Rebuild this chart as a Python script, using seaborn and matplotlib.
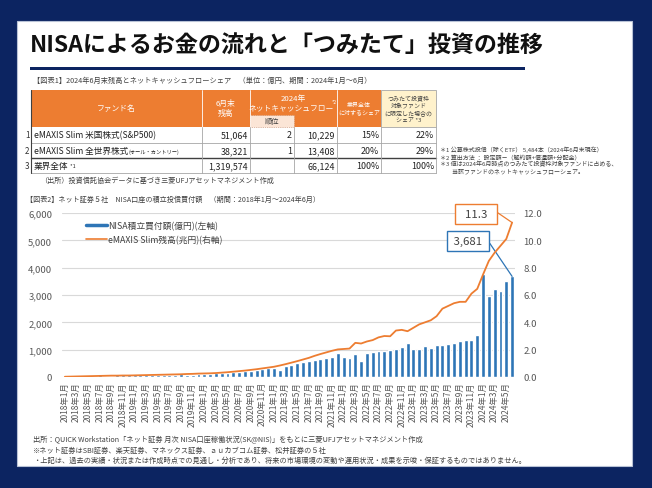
import numpy as np
import pandas as pd
import matplotlib
matplotlib.use("Agg")
import matplotlib.pyplot as plt
import seaborn as sns
from matplotlib.patches import Rectangle
from matplotlib.lines import Line2D

sns.set_theme(style="white")
plt.rcParams['font.family'] = ['Noto Sans CJK JP', 'DejaVu Sans']

# ---------------- data ----------------
months = [f"{y}年{m}月" for y in range(2018, 2025) for m in range(1, 13)][:78]

nisa_buy = [  # 億円 (left axis)
    5, 10, 40, 45, 45, 50, 55, 50, 30, 55, 60, 60,
    55, 60, 55, 60, 70, 75, 70, 80, 95, 85, 90, 95,
    110, 115, 140, 135, 150, 170, 200, 210, 225, 240, 280, 330,
    320, 270, 415, 450, 500, 540, 575, 620, 660, 705, 745, 880,
    720, 700, 850, 600, 880, 915, 940, 960, 990, 1040, 1085, 1230,
    1025, 1010, 1130, 1060, 1160, 1180, 1195, 1245, 1300, 1355, 1355, 1535,
    3780, 2975, 3220, 3160, 3525, 3681,
]
emaxis_aum = [  # 兆円 (right axis)
    0.02, 0.03, 0.04, 0.05, 0.06, 0.07, 0.08, 0.09, 0.10, 0.10, 0.11, 0.11,
    0.12, 0.13, 0.14, 0.15, 0.16, 0.17, 0.18, 0.19, 0.20, 0.22, 0.23, 0.25,
    0.26, 0.27, 0.29, 0.32, 0.35, 0.39, 0.43, 0.47, 0.52, 0.57, 0.63, 0.69,
    0.75, 0.84, 0.94, 1.05, 1.16, 1.28, 1.40, 1.55, 1.68, 1.80, 1.92, 2.02,
    2.05, 2.08, 2.50, 2.45, 2.60, 2.70, 2.90, 3.00, 2.98, 3.40, 3.45, 3.35,
    3.60, 3.85, 4.00, 4.15, 4.45, 5.00, 5.20, 5.40, 5.50, 5.50, 6.10, 6.45,
    7.50, 8.50, 9.10, 9.60, 10.10, 11.30,
]
left_ticks = [0, 1000, 2000, 3000, 4000, 5000, 6000]
right_ticks = [0, 2, 4, 6, 8, 10, 12]

fund_names = ["eMAXIS Slim 米国株式(S&P500)", "eMAXIS Slim 全世界株式", "業界全体"]
fund_suffix = ["", "(オール・カントリー)", " *1"]
balance = ["51,064", "38,321", "1,319,574"]
ncf_rank = ["2", "1", ""]
ncf = ["10,229", "13,408", "66,124"]
share_all = ["15%", "20%", "100%"]
share_tsumitate = ["22%", "29%", "100%"]

NAVY = "#0c2461"
ORANGE = "#ED7D31"
BLUE = "#2E75B6"
GRAY = "#595959"

W, H = 652, 489
fig = plt.figure(figsize=(W / 100, H / 100), dpi=100)
fig.patch.set_facecolor(NAVY)

# ------------- slide (pixel coordinates) -------------
bg = fig.add_axes([0, 0, 1, 1])
bg.set_xlim(0, W)
bg.set_ylim(H, 0)
bg.axis("off")
bg.set_zorder(0)

bg.add_patch(Rectangle((17, 22), 615, 445, facecolor="white", edgecolor="#b8c2d6", lw=0.8))
bg.text(30, 46, "NISAによるお金の流れと「つみたて」投資の推移", fontsize=16.6, fontweight="bold",
        color="#111111", va="center", ha="left")
bg.add_patch(Rectangle((30, 67.5), 495, 3.5, facecolor=NAVY, edgecolor="none"))

bg.text(33, 81, "【図表1】2024年6月末残高とネットキャッシュフローシェア　（単位：億円、期間：2024年1月～6月）",
        fontsize=5.2, color="#404040", va="center", ha="left")

# table
cols = [31, 202, 250, 294, 337, 381, 436]
hdr_top, hdr_bot = 91, 128
rows = [128, 144, 159, 174]
bg.add_patch(Rectangle((cols[0], hdr_top), cols[5] - cols[0], hdr_bot - hdr_top,
                       facecolor=ORANGE, edgecolor="none"))
bg.add_patch(Rectangle((cols[5], hdr_top), cols[6] - cols[5], hdr_bot - hdr_top,
                       facecolor="#FFF2CC", edgecolor="#a6a6a6", lw=0.6))
bg.add_patch(Rectangle((cols[2], 116), cols[3] - cols[2], hdr_bot - 116,
                       facecolor="#FBE5D6", edgecolor="#c08060", lw=0.5, ls=":"))
for x in [cols[1], cols[2], cols[4]]:
    bg.plot([x, x], [hdr_top, hdr_bot], color="white", lw=0.6)
hdr_kw = dict(color="white", va="center", ha="center", fontsize=5.6)
bg.text((cols[0] + cols[1]) / 2, 109, "ファンド名", **hdr_kw)
bg.text((cols[1] + cols[2]) / 2, 109, "6月末\n残高", linespacing=1.2, **hdr_kw)
bg.text((cols[2] + cols[4]) / 2, 99, "2024年", **hdr_kw)
bg.text((cols[2] + cols[4]) / 2 - 2, 108, "ネットキャッシュフロー", **hdr_kw)
bg.text(cols[4] - 3, 102.5, "*2", color="white", fontsize=3.6, ha="center", va="center")
bg.text((cols[2] + cols[3]) / 2, 122, "順位", color="#404040", fontsize=5.2, ha="center", va="center")
bg.text((cols[4] + cols[5]) / 2, 109, "業界全体\nに対するシェア", color="white", fontsize=4.3,
        ha="center", va="center", linespacing=1.5)
bg.text((cols[5] + cols[6]) / 2, 109, "つみたて投資枠\n対象ファンド\nに限定した場合の\nシェア *3",
        color="#404040", fontsize=4.3, ha="center", va="center", linespacing=1.35)

# body
fig.canvas.draw()
renderer = fig.canvas.get_renderer()
inv = bg.transData.inverted()
for i in range(3):
    yc = (rows[i] + rows[i + 1]) / 2
    bg.text(29.5, yc, str(i + 1), fontsize=5.8, color="#333333", ha="right", va="center")
    t = bg.text(34, yc, fund_names[i], fontsize=6.2, color="#222222", ha="left", va="center")
    if fund_suffix[i]:
        ext = t.get_window_extent(renderer=renderer)
        x_end = inv.transform((ext.x1, ext.y0))[0]
        bg.text(x_end + 0.5, yc + 0.5, fund_suffix[i], fontsize=3.8, color="#222222",
                ha="left", va="center")
    vals = [balance[i], ncf_rank[i], ncf[i], share_all[i], share_tsumitate[i]]
    for j, v in enumerate(vals):
        bg.text(cols[j + 2] - 2, yc, v, fontsize=6.4, color="#222222", ha="right", va="center")
for y in rows[1:]:
    bg.plot([cols[0], cols[6]], [y, y], color="#a6a6a6", lw=0.6)
bg.plot([cols[0], cols[6]], [rows[2], rows[2]], color="#404040", lw=1.0)
for x in cols:
    bg.plot([x, x], [rows[0], rows[3]], color="#a6a6a6", lw=0.6)
bg.plot([cols[0], cols[0]], [hdr_top, rows[3]], color="#404040", lw=0.8)

bg.text(40, 181, "（出所）投資信託協会データに基づき三菱UFJアセットマネジメント作成",
        fontsize=5.1, color="#404040", ha="left", va="center")

notes = ["＊1 公募株式投信（除くETF） 5,484本（2024年6月末現在）",
         "＊2 算出方法 ： 設定額－（解約額+償還額+分配金）",
         "＊3 値は2024年6月時点のつみたて投資枠対象ファンドに占める、",
         "　　当該ファンドのネットキャッシュフローシェア。"]
for k, s in enumerate(notes):
    bg.text(440, 150 + k * 7.3, s, fontsize=4.35, color="#404040", ha="left", va="center")

bg.text(26, 200, "【図表2】ネット証券５社　NISA口座の積立投信買付額　（期間：2018年1月～2024年6月）",
        fontsize=5.1, color="#404040", ha="left", va="center")

footer = ["出所：QUICK Workstation「ネット証券 月次 NISA口座稼働状況(SK@NIS)」をもとに三菱UFJアセットマネジメント作成",
          "※ネット証券はSBI証券、楽天証券、マネックス証券、ａｕカブコム証券、松井証券の５社",
          "・上記は、過去の実績・状況または作成時点での見通し・分析であり、将来の市場環境の変動や運用状況・成果を示唆・保証するものではありません。"]
for k, s in enumerate(footer):
    bg.text(33, 440 + k * 10.5, s, fontsize=5.2, color="#404040", ha="left", va="center")

# ------------- chart -------------
df = pd.DataFrame({"month": months, "nisa": nisa_buy, "emaxis": emaxis_aum})
ax = fig.add_axes([62 / W, (H - 378) / H, 453 / W, 164 / H])
ax.set_zorder(2)
ax.patch.set_alpha(0)
sns.barplot(data=df, x="month", y="nisa", color=BLUE, saturation=1, width=0.68, ax=ax, zorder=2)
ax2 = ax.twinx()
ax2.set_zorder(3)
sns.lineplot(data=df, x="month", y="emaxis", color=ORANGE, lw=1.3, ax=ax2, zorder=3)

ax.set_xlim(-0.5, len(months) - 0.5)
ax.set_ylim(0, 6000)
ax2.set_ylim(0, 12)
ax.set_yticks(left_ticks)
ax.set_yticklabels([f"{v:,}" for v in left_ticks])
ax2.set_yticks(right_ticks)
ax2.set_yticklabels([f"{v:.1f}" for v in right_ticks])
ax.set_xticks(range(0, len(months), 2))
ax.set_xticklabels(months[::2], rotation=90)
ax.grid(axis="y", color="#d9d9d9", lw=0.8)
ax.set_axisbelow(True)
ax2.grid(False)
for a in (ax, ax2):
    for s in a.spines.values():
        s.set_visible(False)
    a.set_xlabel("")
    a.set_ylabel("")
ax.tick_params(axis="y", length=0, pad=7, labelsize=6.9, labelcolor=GRAY)
ax2.tick_params(axis="y", length=0, pad=6, labelsize=6.9, labelcolor=GRAY)
ax.tick_params(axis="x", length=0, pad=3, labelsize=6.0, labelcolor=GRAY)

handles = [Line2D([], [], color=BLUE, lw=2.5), Line2D([], [], color=ORANGE, lw=1.2)]
ax.legend(handles, ["NISA積立買付額(億円)(左軸)", "eMAXIS Slim残高(兆円)(右軸)"],
          loc="upper left", bbox_to_anchor=(0.035, 1.0), frameon=False, fontsize=6.3,
          handlelength=2.4, handletextpad=0.15, labelspacing=0.55, labelcolor="#404040")

n = len(months)
ax2.annotate(f"  {emaxis_aum[-1]:.1f}  ", xy=(n - 1, emaxis_aum[-1]), xytext=(476, H - 215),
             textcoords="figure pixels", ha="center", va="center", fontsize=8.2, color="#404040",
             bbox=dict(boxstyle="square,pad=0.4", fc="white", ec=ORANGE, lw=1.0),
             arrowprops=dict(arrowstyle="-", color=ORANGE, lw=0.9, relpos=(1, 1),
                             shrinkA=0, shrinkB=0))
ax.annotate(f" {nisa_buy[-1]:,} ", xy=(n - 1, nisa_buy[-1]), xytext=(468, H - 242),
            textcoords="figure pixels", ha="center", va="center", fontsize=8.2, color="#404040",
            bbox=dict(boxstyle="square,pad=0.4", fc="white", ec=BLUE, lw=1.0),
            arrowprops=dict(arrowstyle="-", color=BLUE, lw=0.9, relpos=(1, 1),
                            shrinkA=0, shrinkB=0), zorder=5)

fig.savefig("out.png", dpi=100, facecolor=fig.get_facecolor())
